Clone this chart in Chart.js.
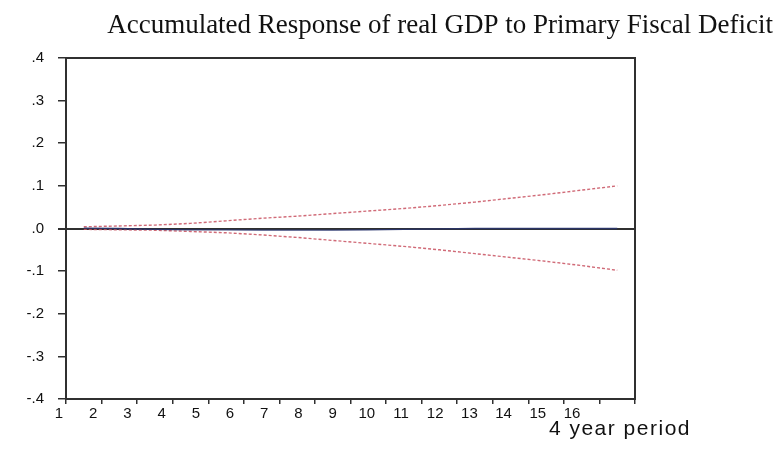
<!DOCTYPE html>
<html>
<head>
<meta charset="utf-8">
<title>Accumulated Response of real GDP to Primary Fiscal Deficit</title>
<script src="https://cdn.jsdelivr.net/npm/chart.js@4.4.1/dist/chart.umd.min.js"></script>
<style>
  html, body { margin: 0; padding: 0; background: #ffffff; }
  #chart { display: block; }
</style>
</head>
<body>
<canvas id="chart" width="777" height="466"></canvas>
<script>
// Horizon (4-year periods) and accumulated impulse response with its error bands
const periods = [1, 2, 3, 4, 5, 6, 7, 8, 9, 10, 11, 12, 13, 14, 15, 16];
const response = [0.001, 0.000, -0.002, -0.003, -0.003, -0.004, -0.004, -0.004, -0.003, -0.002, -0.001, 0.000, 0.000, 0.000, 0.000, 0.000];
const upperBand = [0.004, 0.006, 0.008, 0.012, 0.018, 0.024, 0.029, 0.035, 0.041, 0.047, 0.054, 0.062, 0.071, 0.080, 0.090, 0.100];
const lowerBand = [-0.002, -0.003, -0.004, -0.007, -0.010, -0.015, -0.021, -0.028, -0.035, -0.042, -0.050, -0.059, -0.068, -0.077, -0.087, -0.098];

// Axis tick values and labels
const xTickLabels = ['1', '2', '3', '4', '5', '6', '7', '8', '9', '10', '11', '12', '13', '14', '15', '16'];
const yTickValues = [-0.4, -0.3, -0.2, -0.1, 0, 0.1, 0.2, 0.3, 0.4];

const titleText = 'Accumulated Response of real GDP to Primary Fiscal Deficit';
const xAxisText = '4 year period';

const INK = '#303030';
const SANS = "'Liberation Sans', Arial, sans-serif";

const toPoints = (vals) => periods.map((p, i) => ({ x: p, y: vals[i] }));

// Period boundaries for the tick marks under the frame
const boundaries = periods.map(p => p - 0.5).concat([periods[periods.length - 1] + 0.5]);

const fmtY = (v) => {
  const r = Math.round(Math.abs(v) * 10);
  return (v < -1e-9 ? '-' : '') + '.' + r;
};

// Caption under the axis, right of the frame
const axisCaption = {
  id: 'axisCaption',
  afterDraw(chart) {
    const { ctx, chartArea } = chart;
    ctx.save();
    ctx.font = '21px ' + SANS;
    if ('letterSpacing' in ctx) ctx.letterSpacing = '1.5px';
    ctx.fillStyle = '#111111';
    ctx.textAlign = 'right';
    ctx.textBaseline = 'middle';
    ctx.fillText(xAxisText, chartArea.right + 56, chartArea.bottom + 30);
    ctx.restore();
  }
};

new Chart(document.getElementById('chart'), {
  type: 'line',
  data: {
    datasets: [
      {
        label: 'Response',
        data: toPoints(response),
        borderColor: 'rgba(42, 53, 110, 0.9)',
        borderWidth: 1.3,
        pointRadius: 0,
        tension: 0
      },
      {
        label: 'Upper band',
        data: toPoints(upperBand),
        borderColor: 'rgba(200, 80, 95, 0.85)',
        borderWidth: 1.4,
        borderDash: [3, 2],
        pointRadius: 0,
        tension: 0
      },
      {
        label: 'Lower band',
        data: toPoints(lowerBand),
        borderColor: 'rgba(200, 80, 95, 0.85)',
        borderWidth: 1.4,
        borderDash: [3, 2],
        pointRadius: 0,
        tension: 0
      }
    ]
  },
  options: {
    responsive: false,
    animation: false,
    devicePixelRatio: 1,
    layout: { padding: { left: 0, right: 4, top: 0, bottom: 32 } },
    plugins: {
      legend: { display: false },
      tooltip: { enabled: false },
      title: {
        display: true,
        text: titleText,
        align: 'end',
        color: '#111111',
        font: { family: "'Liberation Serif', 'Times New Roman', serif", size: 27, weight: 'normal', lineHeight: 1.2 },
        padding: { top: 10, bottom: 15.6 }
      }
    },
    scales: {
      x: {
        type: 'linear',
        position: 'bottom',
        weight: 0,
        min: boundaries[0],
        max: boundaries[boundaries.length - 1],
        afterBuildTicks: (s) => { s.ticks = boundaries.map(v => ({ value: v })); },
        ticks: { display: false },
        grid: { drawOnChartArea: false, drawTicks: true, tickLength: 5, color: INK, lineWidth: 1.5 },
        border: { display: true, color: INK, width: 2 }
      },
      xLabels: {
        type: 'linear',
        position: 'bottom',
        weight: 1,
        min: 1,
        max: 1 + 569 / 34.2,
        afterBuildTicks: (s) => { s.ticks = xTickLabels.map(t => ({ value: Number(t) })); },
        afterFit: (s) => { s.height = 30; },
        ticks: {
          labelOffset: -7,
          padding: 1,
          maxRotation: 0,
          autoSkip: false,
          color: '#111111',
          font: { family: SANS, size: 15 },
          callback: (v) => xTickLabels[periods.indexOf(v)]
        },
        grid: { display: false, drawTicks: false },
        border: { display: false }
      },
      xTop: {
        type: 'linear',
        position: 'top',
        ticks: { display: false },
        grid: { drawOnChartArea: false, drawTicks: false },
        border: { display: true, color: INK, width: 2 }
      },
      y: {
        type: 'linear',
        position: 'left',
        min: yTickValues[0],
        max: yTickValues[yTickValues.length - 1],
        afterBuildTicks: (s) => { s.ticks = yTickValues.map(v => ({ value: v })); },
        afterFit: (s) => { s.width = 66; },
        ticks: {
          padding: 14,
          color: '#111111',
          font: { family: SANS, size: 15 },
          callback: (v) => fmtY(v)
        },
        grid: {
          drawOnChartArea: true,
          drawTicks: true,
          tickLength: 8,
          tickColor: INK,
          color: (c) => (c.tick && Math.abs(c.tick.value) < 1e-9 ? INK : 'rgba(0,0,0,0)'),
          lineWidth: (c) => (c.tick && Math.abs(c.tick.value) < 1e-9 ? 2 : 1.5)
        },
        border: { display: true, color: INK, width: 2 }
      },
      yRight: {
        type: 'linear',
        position: 'right',
        afterFit: (s) => { s.width = 138; },
        ticks: { display: false },
        grid: { drawOnChartArea: false, drawTicks: false },
        border: { display: true, color: INK, width: 2 }
      }
    }
  },
  plugins: [axisCaption]
});
</script>
</body>
</html>
